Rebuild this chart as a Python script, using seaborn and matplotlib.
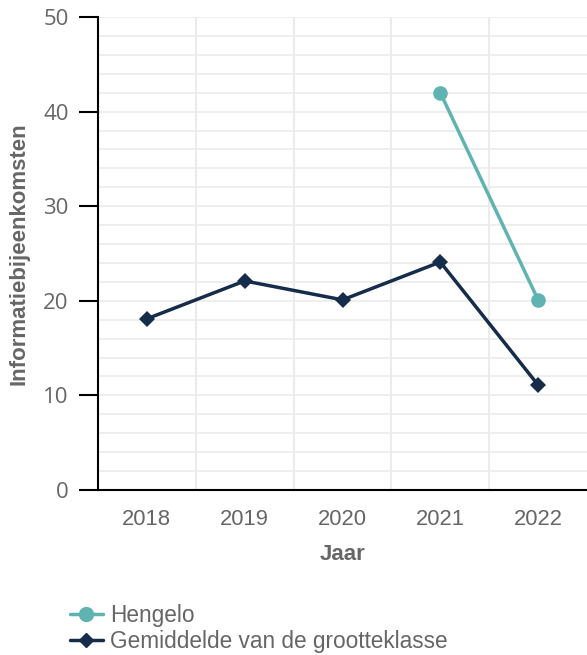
import matplotlib
matplotlib.use("Agg")
import matplotlib.pyplot as plt
import seaborn as sns
import pandas as pd
import numpy as np
from matplotlib.ticker import MultipleLocator, FixedLocator

# data
years = ["2018", "2019", "2020", "2021", "2022"]
hengelo = [np.nan, np.nan, np.nan, 42, 20.1]
gemiddelde = [18.1, 22.1, 20.1, 24.1, 11.1]
series_names = ["Hengelo", "Gemiddelde van de grootteklasse"]
colors = ["#5fb4b1", "#152c4a"]

sns.set_theme(style="white")
plt.rcParams["font.family"] = ["Liberation Sans", "DejaVu Sans"]

df = pd.DataFrame({
    "Jaar": years * 2,
    "Waarde": hengelo + gemiddelde,
    "Reeks": [series_names[0]] * len(years) + [series_names[1]] * len(years),
})

fig = plt.figure(figsize=(5.87, 6.55), dpi=100)
ax = fig.add_axes([98 / 587, 1 - 490 / 655, 1 - 98 / 587, (490 - 17) / 655])

sns.lineplot(data=df, x="Jaar", y="Waarde", hue="Reeks", style="Reeks",
             palette=dict(zip(series_names, colors)),
             markers={series_names[0]: "o", series_names[1]: "D"},
             dashes=False, markersize=9, linewidth=2.5,
             markeredgewidth=0, ax=ax, legend=False)
# circles a little bigger than diamonds
for line in ax.lines:
    if line.get_marker() == "o":
        line.set_markersize(10.5)
    elif line.get_marker() == "D":
        line.set_markersize(8)

ax.set_xlim(-0.5, 4.5)
ax.set_ylim(0, 50)
ax.yaxis.set_major_locator(MultipleLocator(10))
ax.yaxis.set_minor_locator(MultipleLocator(2))
ax.xaxis.set_minor_locator(FixedLocator([0.5, 1.5, 2.5, 3.5]))
ax.grid(which="both", axis="y", color="#ebebeb", linewidth=1.2)
ax.grid(which="minor", axis="x", color="#ebebeb", linewidth=1.5)
ax.set_axisbelow(True)

for s in ["top", "right"]:
    ax.spines[s].set_visible(False)
for s in ["left", "bottom"]:
    ax.spines[s].set_color("black")
    ax.spines[s].set_linewidth(1.5)

ax.tick_params(axis="y", which="major", length=14, width=1.5, color="black",
               labelsize=16, labelcolor="#666666", pad=7, left=True,
               labelfontfamily="Open Sans")
ax.tick_params(axis="y", which="minor", length=0)
ax.tick_params(axis="x", which="both", length=0, labelsize=15.8,
               labelcolor="#666666", pad=14)

ax.set_xlabel("Jaar", fontsize=16, fontweight="bold", color="#666666")
ax.set_ylabel("Informatiebijeenkomsten", fontsize=16, fontweight="bold",
              color="#666666")
ax.xaxis.set_label_coords(0.5, (490 - 544) / 473)
ax.yaxis.set_label_coords((30 - 98) / 489, 0.5)

handles = [
    plt.Line2D([], [], color=colors[0], marker="o", markersize=10, linewidth=2.5),
    plt.Line2D([], [], color=colors[1], marker="D", markersize=7.5, linewidth=2.5),
]
fig.legend(handles, series_names, loc="upper left",
           bbox_to_anchor=(61 / 587, 1 - 595 / 655), frameon=False,
           fontsize=16.3, labelcolor="#666666", handlelength=1.45,
           handletextpad=0.3, labelspacing=0.12, borderaxespad=0)

fig.savefig("out.png", dpi=100)
